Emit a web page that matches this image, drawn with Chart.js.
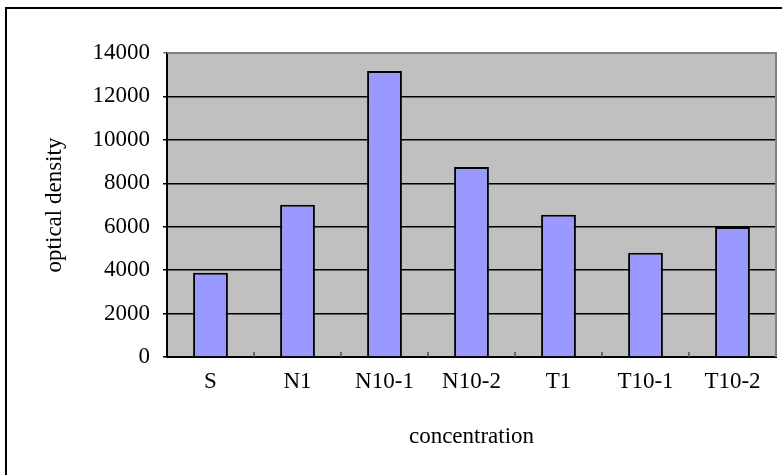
<!DOCTYPE html>
<html>
<head>
<meta charset="utf-8">
<script src="https://cdn.jsdelivr.net/npm/chart.js@4"></script>
<style>
  html, body { margin: 0; padding: 0; background: #fff; overflow: hidden; }
  #wrap { position: relative; width: 782px; height: 475px; }
  #frame { position: absolute; left: 5px; top: 7px; width: 900px; height: 600px;
           border-left: 2px solid #000; border-top: 2px solid #000; pointer-events: none; }
</style>
</head>
<body>
<div id="wrap">
  <canvas id="od-chart" width="782" height="475"></canvas>
  <div id="frame"></div>
</div>
<script>
var categories = ['S', 'N1', 'N10-1', 'N10-2', 'T1', 'T10-1', 'T10-2'];
var densities = [3880, 7010, 13170, 8750, 6550, 4800, 5990];
var yTicks = [0, 2000, 4000, 6000, 8000, 10000, 12000, 14000];

var serif = { family: '"Liberation Serif", "Times New Roman", serif', size: 23 };

// grey plot area, grey top/right border, small inward category ticks
var plotArea = {
    id: 'plotArea',
    beforeDraw: function(chart) {
        var a = chart.chartArea, c = chart.ctx;
        c.save();
        c.fillStyle = '#c0c0c0';
        c.fillRect(a.left, a.top, a.right - a.left, a.bottom - a.top);
        c.restore();
    },
    afterDatasetsDraw: function(chart) {
        var a = chart.chartArea, c = chart.ctx, x = chart.scales.x;
        c.save();
        c.strokeStyle = '#808080';
        c.lineWidth = 2;
        c.beginPath();
        c.moveTo(a.left, a.top);
        c.lineTo(a.right, a.top);
        c.lineTo(a.right, a.bottom);
        c.stroke();
        c.strokeStyle = '#505050';
        c.lineWidth = 1.5;
        for (var i = 1; i < categories.length; i++) {
            var px = (x.getPixelForTick(i - 1) + x.getPixelForTick(i)) / 2;
            c.beginPath();
            c.moveTo(px, a.bottom - 5);
            c.lineTo(px, a.bottom);
            c.stroke();
        }
        c.restore();
    }
};

new Chart(document.getElementById('od-chart').getContext('2d'), {
    type: 'bar',
    data: {
        labels: categories,
        datasets: [{
            label: 'optical density',
            data: densities,
            backgroundColor: '#9999ff',
            borderColor: '#000',
            borderWidth: 2,
            barPercentage: 0.4,
            categoryPercentage: 1
        }]
    },
    options: {
        responsive: false,
        animation: false,
        layout: { padding: { left: 0, top: 53, right: 6, bottom: 0 } },
        plugins: { legend: { display: false }, tooltip: { enabled: false } },
        scales: {
            x: {
                afterFit: function(s) { s.height = 118; },
                grid: { display: false, drawTicks: false },
                border: { color: '#000', width: 2 },
                ticks: { color: '#000', font: serif, padding: 11, maxRotation: 0 },
                title: { display: true, text: 'concentration', color: '#000', font: serif,
                         padding: { top: 0, bottom: 24 } }
            },
            y: {
                min: 0,
                max: 14000,
                afterFit: function(s) { s.width = 167; },
                afterBuildTicks: function(s) { s.ticks = yTicks.map(function(v) { return { value: v }; }); },
                grid: {
                    color: function(ctx) { return ctx.tick && ctx.tick.value === 14000 ? '#808080' : '#000'; },
                    lineWidth: 1.5,
                    tickLength: 4
                },
                border: { color: '#000', width: 2 },
                ticks: { color: '#000', font: serif, padding: 13,
                         callback: function(v) { return String(v); } },
                title: { display: true, text: 'optical density', color: '#000', font: serif,
                         padding: { top: 41, bottom: 0 } }
            }
        }
    },
    plugins: [plotArea]
});
</script>
</body>
</html>
